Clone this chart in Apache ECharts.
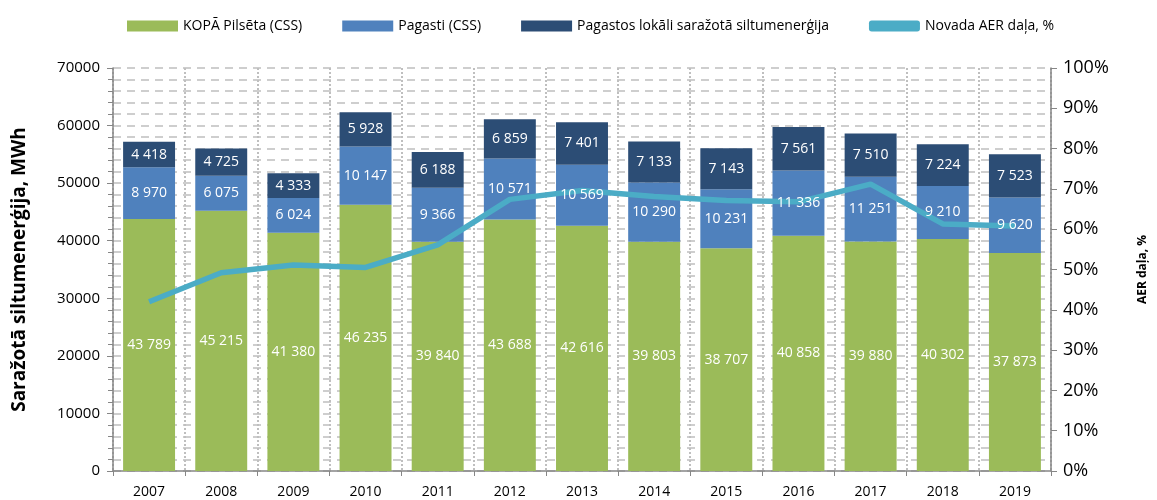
<!DOCTYPE html>
<html>
<head>
<meta charset="utf-8">
<script src="https://cdn.jsdelivr.net/npm/echarts@6/dist/echarts.min.js"></script>
<style>
  html, body { margin: 0; padding: 0; background: #fff; }
  #chart { width: 1157px; height: 500px; }
</style>
</head>
<body>
<div id="chart"></div>
<script>
var years = ['2007', '2008', '2009', '2010', '2011', '2012', '2013', '2014', '2015', '2016', '2017', '2018', '2019'];
var pilseta = [43789, 45215, 41380, 46235, 39840, 43688, 42616, 39803, 38707, 40858, 39880, 40302, 37873];
var pagasti = [8970, 6075, 6024, 10147, 9366, 10571, 10569, 10290, 10231, 11336, 11251, 9210, 9620];
var lokali = [4418, 4725, 4333, 5928, 6188, 6859, 7401, 7133, 7143, 7561, 7510, 7224, 7523];
var aerShare = [0.420, 0.492, 0.511, 0.505, 0.561, 0.674, 0.696, 0.681, 0.671, 0.668, 0.712, 0.613, 0.608];

var font = "'Open Sans', sans-serif";

function formatNum(num) {
    var reg = /\d{1,3}(?=(\d{3})+$)/g;
    return (num + '').replace(reg, '$& ');
}

// visible bars, no labels (labels come from the ghost copy so they sit above the line)
function barSeries(name, data, color) {
    return {
        name: name,
        type: 'bar',
        stack: 'total',
        barWidth: '72%',
        data: data,
        itemStyle: { color: color },
        z: 2
    };
}

function labelSeries(name, data) {
    return {
        name: name,
        type: 'bar',
        stack: 'labels',
        xAxisIndex: 1,
        barWidth: '72%',
        data: data,
        silent: true,
        itemStyle: { color: 'rgba(0,0,0,0)' },
        z: 5,
        label: {
            show: true,
            position: 'inside',
            color: '#fff',
            fontFamily: font,
            fontSize: 14,
            formatter: function (p) { return formatNum(p.value); }
        }
    };
}

var myChart = echarts.init(document.getElementById('chart'));
myChart.setOption({
    animation: false,
    textStyle: { fontFamily: font },
    legend: {
        top: 14,
        left: 122,
        itemWidth: 51,
        itemHeight: 11,
        itemGap: 40,
        textStyle: { fontSize: 14, color: '#000', fontFamily: font },
        data: [
            { name: 'KOPĀ Pilsēta (CSS)', icon: 'rect' },
            { name: 'Pagasti (CSS)', icon: 'rect' },
            { name: 'Pagastos lokāli saražotā siltumenerģija', icon: 'rect' },
            { name: 'Novada AER daļa, %', icon: 'roundRect' }
        ]
    },
    grid: {
        top: 68,
        bottom: 29,
        left: 113,
        right: 95
    },
    xAxis: [{
        type: 'category',
        data: years,
        axisLine: { lineStyle: { color: '#868686', width: 1.5 } },
        axisTick: { show: true, length: 5, lineStyle: { color: '#868686' } },
        axisLabel: { color: '#000', fontSize: 14, margin: 14, fontFamily: font },
        splitLine: { show: true, interval: 0, lineStyle: { color: '#bfbfbf', type: 'dotted', width: 2 } }
    }, {
        type: 'category',
        data: years,
        show: false,
        position: 'bottom'
    }],
    yAxis: [{
        type: 'value',
        min: 0,
        max: 70000,
        interval: 10000,
        name: 'Saražotā siltumenerģija, MWh',
        nameLocation: 'middle',
        nameGap: 84,
        nameTextStyle: { fontSize: 19, fontWeight: 'bold', color: '#000', fontFamily: font },
        axisLine: { show: true, lineStyle: { color: '#868686', width: 1.5 } },
        axisTick: { show: true, length: 6, lineStyle: { color: '#868686' } },
        minorTick: { show: true, splitNumber: 5, length: 5, lineStyle: { color: '#868686' } },
        axisLabel: {
            color: '#000',
            fontSize: 15,
            margin: 13,
            fontFamily: font,
            formatter: function (v) { return String(v); }
        },
        splitLine: { show: true, lineStyle: { color: '#bfbfbf', type: [8, 6], width: 1.5 } },
        minorSplitLine: { show: true, lineStyle: { color: '#bfbfbf', type: [8, 6], width: 1.5 } }
    }, {
        type: 'value',
        min: 0,
        max: 1,
        interval: 0.1,
        position: 'right',
        name: 'AER daļa, %',
        nameLocation: 'middle',
        nameGap: 86,
        nameTextStyle: { fontSize: 12, fontWeight: 'bold', color: '#000', fontFamily: font },
        axisLine: { show: true, lineStyle: { color: '#868686', width: 1.5 } },
        axisTick: { show: true, length: 6, lineStyle: { color: '#868686' } },
        axisLabel: {
            color: '#000',
            fontSize: 18,
            margin: 12,
            fontFamily: font,
            formatter: function (v) { return Math.round(v * 100) + '%'; }
        },
        splitLine: { show: false }
    }],
    series: [
        barSeries('KOPĀ Pilsēta (CSS)', pilseta, '#9bbb59'),
        barSeries('Pagasti (CSS)', pagasti, '#4f81bd'),
        barSeries('Pagastos lokāli saražotā siltumenerģija', lokali, '#2c4d75'),
        {
            name: 'Novada AER daļa, %',
            type: 'line',
            yAxisIndex: 1,
            data: aerShare,
            symbol: 'none',
            z: 3,
            lineStyle: { color: '#4bacc6', width: 5.5 },
            itemStyle: { color: '#4bacc6' }
        },
        labelSeries('pilseta-label', pilseta),
        labelSeries('pagasti-label', pagasti),
        labelSeries('lokali-label', lokali)
    ]
});
</script>
</body>
</html>
